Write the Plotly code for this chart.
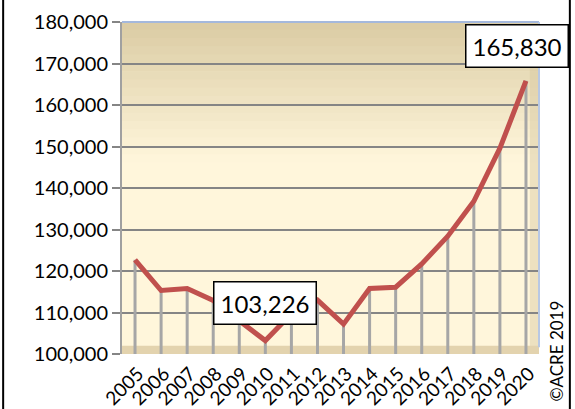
import plotly.graph_objects as go

years = ["2005", "2006", "2007", "2008", "2009", "2010", "2011", "2012",
         "2013", "2014", "2015", "2016", "2017", "2018", "2019", "2020"]
values = [122700, 115300, 115800, 112900, 108000, 103226, 109700, 113000,
          107200, 115800, 116100, 121700, 128400, 136800, 149600, 165830]
y_ticks = [100000, 110000, 120000, 130000, 140000, 150000, 160000, 170000, 180000]
y_tick_labels = ["100,000", "110,000", "120,000", "130,000", "140,000",
                 "150,000", "160,000", "170,000", "180,000"]
base_value = 100000

FONT = "Lato"

fig = go.Figure()

dx, dy = [], []
for i, v in enumerate(values):
    dx += [i, i, None]
    dy += [base_value, v, None]
fig.add_trace(go.Scatter(x=dx, y=dy, mode="lines",
                         line=dict(color="#a6a6a6", width=3),
                         hoverinfo="skip", showlegend=False))

fig.add_trace(go.Scatter(x=list(range(len(years))), y=values, mode="lines",
                         line=dict(color="#c0504d", width=5),
                         showlegend=False))

shapes = []
top = (218, 203, 163)
bot = (255, 246, 219)
N = 40
for i in range(N):
    f0 = i / N
    f1 = (i + 1) / N
    t = min(1.0, (f0 + 0.5 / N) / 0.42)
    c = tuple(round(top[k] + (bot[k] - top[k]) * t) for k in range(3))
    shapes.append(dict(type="rect", xref="paper", yref="paper",
                       x0=0, x1=1, y0=1 - f1, y1=1 - f0 + 0.002,
                       fillcolor="rgb(%d,%d,%d)" % c, line=dict(width=0),
                       layer="below"))
shapes.append(dict(type="rect", xref="paper", yref="paper", x0=0.978, x1=1,
                   y0=0, y1=1, fillcolor="rgba(215,200,160,0.45)",
                   line=dict(width=0), layer="below"))
shapes.append(dict(type="rect", xref="paper", yref="paper", x0=0, x1=1,
                   y0=0, y1=0.025, fillcolor="#e3d3ae",
                   line=dict(width=0), layer="below"))
shapes.append(dict(type="line", xref="paper", yref="paper", x0=0, x1=1,
                   y0=1, y1=1, line=dict(color="#a4b8dc", width=2)))
shapes.append(dict(type="line", xref="paper", yref="paper", x0=1, x1=1,
                   y0=0.02, y1=1, line=dict(color="#b8c8e4", width=2)))
shapes.append(dict(type="line", xref="paper", yref="paper", x0=-0.285, x1=-0.285,
                   y0=-0.3, y1=1.2, line=dict(color="black", width=2)))
shapes.append(dict(type="line", xref="paper", yref="paper", x0=1.074, x1=1.074,
                   y0=-0.3, y1=1.2, line=dict(color="black", width=2)))

annotations = [
    dict(x=15, y=values[15], xref="x", yref="y", text="165,830",
         showarrow=False, xshift=-9, yshift=35,
         font=dict(family=FONT, size=24, color="black"),
         bgcolor="white", bordercolor="black", borderwidth=1.5, borderpad=6),
    dict(x=5, y=values[5], xref="x", yref="y", text="103,226",
         showarrow=False, xshift=0, yshift=38,
         font=dict(family=FONT, size=24, color="black"),
         bgcolor="white", bordercolor="black", borderwidth=1.5, borderpad=6),
    dict(x=1.043, y=0.01, xref="paper", yref="paper", text="©ACRE 2019",
         xanchor="center", yanchor="middle",
         showarrow=False, textangle=-90,
         font=dict(family=FONT, size=17, color="black")),
]

fig.update_layout(
    width=575, height=409,
    margin=dict(l=122, r=36, t=22, b=55, autoexpand=False),
    paper_bgcolor="white",
    plot_bgcolor="#fff6db",
    shapes=shapes,
    annotations=annotations,
    showlegend=False,
    xaxis=dict(range=[-0.5, 15.5], tickvals=list(range(len(years))),
               ticktext=years, showgrid=False, zeroline=False, automargin=False,
               showline=False, ticks="", tickangle=-45,
               ticklabelstandoff=4, ticklabelshift=3,
               tickfont=dict(family=FONT, size=19, color="black")),
    yaxis=dict(range=[100000, 180000], tickvals=y_ticks, ticktext=y_tick_labels,
               showgrid=True, gridcolor="#858585", gridwidth=1.5, automargin=False,
               zeroline=False, showline=True, linecolor="#a0a0a0", linewidth=2,
               ticks="outside", ticklen=8, tickcolor="#858585", tickwidth=1.5,
               tickfont=dict(family=FONT, size=20, color="black")),
)

fig.write_html("out.html", config={"displayModeBar": False},
               post_script="document.body.style.margin='0';document.body.style.overflow='hidden';")
